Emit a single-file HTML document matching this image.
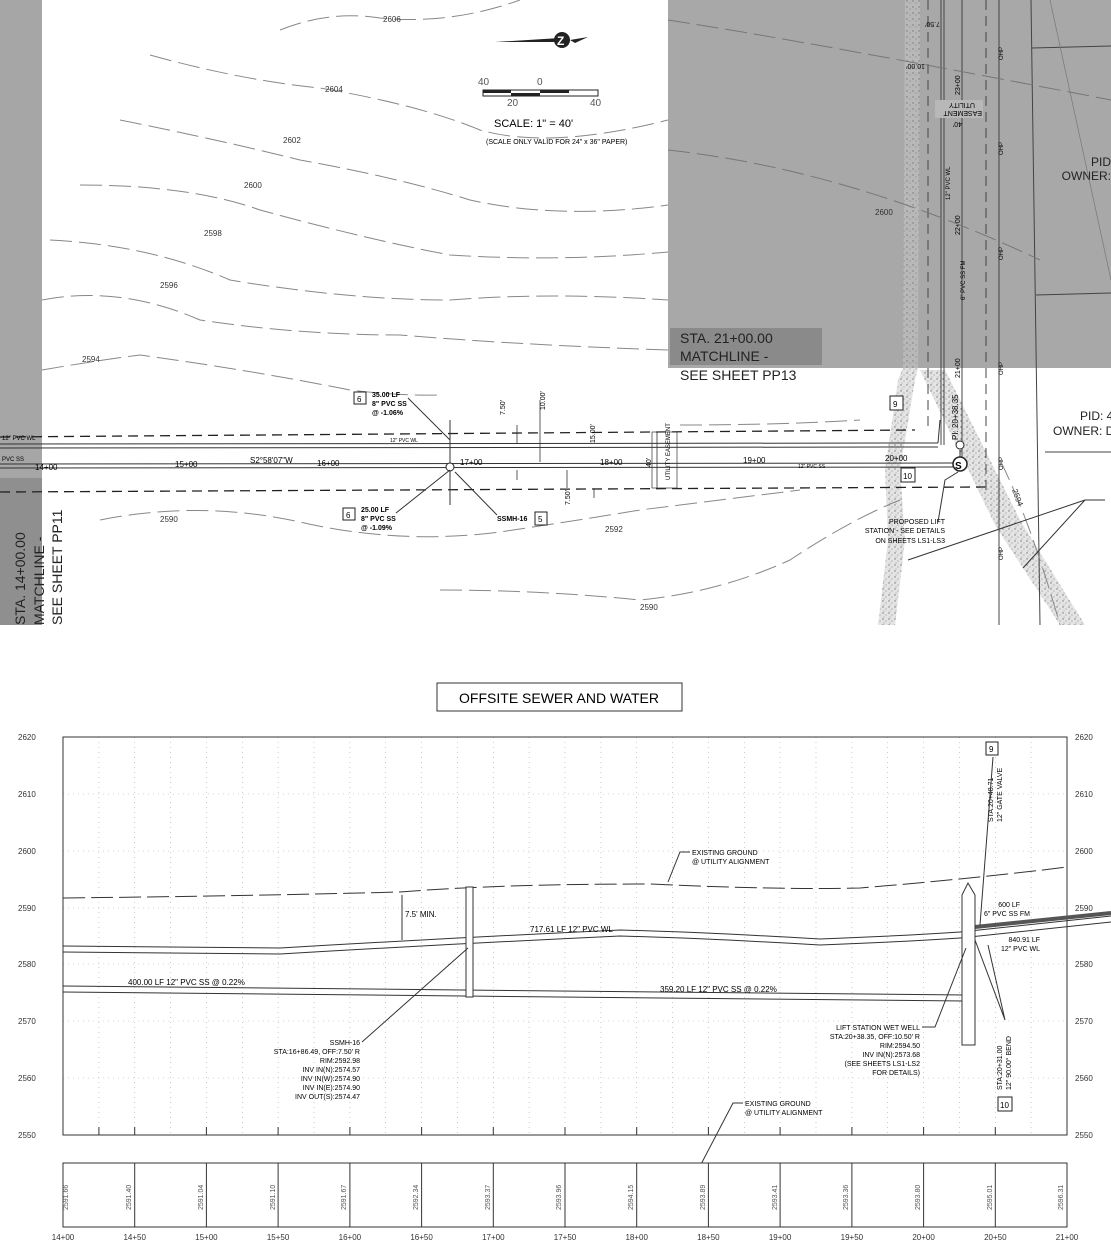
<!DOCTYPE html>
<html><head><meta charset="utf-8"><style>
html,body{margin:0;padding:0;background:#fff;}
svg{display:block;font-family:"Liberation Sans",sans-serif;}
</style></head><body>
<svg width="1111" height="1250" viewBox="0 0 1111 1250" xmlns="http://www.w3.org/2000/svg">
<defs>
<pattern id="spk" width="6" height="6" patternUnits="userSpaceOnUse"><rect width="6" height="6" fill="#e4e4e4"/><circle cx="1" cy="1" r="0.7" fill="#777"/><circle cx="4" cy="3" r="0.6" fill="#999"/><circle cx="2" cy="5" r="0.5" fill="#888"/></pattern>
<pattern id="spk2" width="6" height="6" patternUnits="userSpaceOnUse"><rect width="6" height="6" fill="#b8b8b8"/><circle cx="1" cy="1" r="0.7" fill="#777"/><circle cx="4" cy="3" r="0.6" fill="#888"/></pattern>
</defs>
<rect x="0" y="0" width="42" height="478" fill="#a6a6a6"/>
<rect x="0" y="478" width="42" height="147" fill="#8f8f8f"/>
<text transform="translate(25,625) rotate(-90)" font-size="14" fill="#222">STA. 14+00.00</text>
<text transform="translate(44,625) rotate(-90)" font-size="14" fill="#222">MATCHLINE -</text>
<text transform="translate(62,625) rotate(-90)" font-size="14" fill="#222">SEE SHEET PP11</text>
<rect x="668" y="0" width="443" height="368" fill="#a8a8a8"/>
<path d="M905 0 L920 0 L918 368 L903 368 Z" fill="url(#spk2)"/>
<rect x="670" y="328" width="152" height="37" fill="#8a8a8a"/>
<text x="680" y="343" font-size="14" fill="#222">STA. 21+00.00</text>
<text x="680" y="361" font-size="14" fill="#222">MATCHLINE -</text>
<text x="680" y="380" font-size="14" fill="#222">SEE SHEET PP13</text>
<text x="1111" y="166" font-size="12" text-anchor="end" fill="#222">PID</text>
<text x="1111" y="180" font-size="12" text-anchor="end" fill="#222">OWNER:</text>
<text x="1080" y="420" font-size="12" fill="#222">PID: 4</text>
<text x="1053" y="435" font-size="12" fill="#222">OWNER: D</text>
<path d="M903 368 L918 368 L915 380 L900 470 L905 540 L895 625 L878 625 L888 540 L885 470 L898 380 Z" fill="url(#spk)"/>
<path d="M920 370 L945 370 L1020 520 L1085 625 L1060 625 L995 525 Z" fill="url(#spk)"/>
<g stroke="#444" stroke-width="1" fill="none">
<line x1="941" y1="0" x2="941" y2="445"/><line x1="944" y1="0" x2="944" y2="445"/>
<line x1="962" y1="0" x2="962" y2="460"/>
<line x1="999" y1="0" x2="999" y2="625"/><line x1="1031" y1="0" x2="1040" y2="625"/>
<line x1="1032" y1="48" x2="1111" y2="46"/><line x1="1036" y1="295" x2="1111" y2="293"/>
<line x1="1045" y1="452" x2="1111" y2="452"/>
<line x1="986" y1="0" x2="986" y2="490" stroke-dasharray="10,6"/>
<line x1="928" y1="0" x2="928" y2="430" stroke-dasharray="10,6"/>
<line x1="1050" y1="0" x2="1111" y2="280" stroke="#777" stroke-width="0.7"/>
</g>
<text transform="translate(950,200) rotate(-90)" font-size="6">12" PVC WL</text>
<text transform="translate(965,300) rotate(-90)" font-size="6">6" PVC SS FM</text>
<text transform="translate(960,235) rotate(-90)" font-size="7">22+00</text>
<text transform="translate(960,378) rotate(-90)" font-size="7">21+00</text>
<text transform="translate(960,95) rotate(-90)" font-size="7">23+00</text>
<text transform="translate(958,440) rotate(-90)" font-size="8">PI: 20+38.35</text>
<rect x="935" y="100" width="48" height="18" fill="#b8b8b8"/>
<text transform="translate(975,103) rotate(180)" font-size="7">UTILITY</text>
<text transform="translate(982,111) rotate(180)" font-size="7">EASEMENT</text>
<text transform="translate(962,122) rotate(180)" font-size="7">40'</text>
<text transform="translate(925,64) rotate(180)" font-size="7">10.00'</text>
<text transform="translate(940,22) rotate(180)" font-size="7">7.50'</text>
<text transform="translate(1003,260) rotate(-90)" font-size="6">OHP</text>
<text transform="translate(1003,60) rotate(-90)" font-size="6">OHP</text>
<text transform="translate(1003,155) rotate(-90)" font-size="6">OHP</text>
<text transform="translate(1003,375) rotate(-90)" font-size="6">OHP</text>
<text transform="translate(1003,470) rotate(-90)" font-size="6">OHP</text>
<text transform="translate(1003,560) rotate(-90)" font-size="6">OHP</text>
<text x="875" y="215" font-size="8" fill="#333">2600</text>
<g stroke="#888" stroke-width="1" fill="none" stroke-dasharray="22,7">
<path d="M280 30 Q330 10 380 18 Q450 25 520 0"/>
<path d="M150 55 Q240 80 320 88 Q420 105 480 130 Q550 150 668 120"/>
<path d="M120 120 Q220 140 300 160 Q400 178 470 200 Q560 220 668 205"/>
<path d="M80 185 Q190 185 260 210 Q370 240 450 255 Q560 262 668 252"/>
<path d="M50 240 Q150 245 230 280 Q350 300 450 300 Q550 292 668 300"/>
<path d="M42 300 Q120 285 200 320 Q300 335 400 335 Q520 345 668 350"/>
<path d="M42 370 Q100 360 140 355 Q250 370 350 390 Q400 396 440 395"/>
<path d="M100 520 Q200 500 300 522 Q400 545 500 532 Q580 520 640 510 Q720 500 800 490"/>
<path d="M440 590 Q540 590 640 600 Q720 592 790 560 Q850 520 900 500"/>
<path d="M680 425 Q780 425 860 420"/>
<path d="M1000 460 Q1030 520 1060 625"/>
<path d="M668 20 Q800 40 1111 100" stroke="#777"/>
<path d="M668 150 Q850 170 1040 260" stroke="#777"/>
</g>
<text x="383" y="22" font-size="8" fill="#333">2606</text>
<text x="325" y="92" font-size="8" fill="#333">2604</text>
<text x="283" y="143" font-size="8" fill="#333">2602</text>
<text x="244" y="188" font-size="8" fill="#333">2600</text>
<text x="204" y="236" font-size="8" fill="#333">2598</text>
<text x="160" y="288" font-size="8" fill="#333">2596</text>
<text x="82" y="362" font-size="8" fill="#333">2594</text>
<text x="160" y="522" font-size="8" fill="#333">2590</text>
<text x="605" y="532" font-size="8" fill="#333">2592</text>
<text x="640" y="610" font-size="8" fill="#333">2590</text>
<text transform="translate(1012,490) rotate(70)" font-size="8" fill="#333">2594</text>
<path d="M495 42 L560 38 L555 42 Z" fill="#222"/>
<circle cx="562" cy="40" r="8" fill="#222"/><text x="557" y="45" font-size="12" font-weight="bold" fill="#fff">Z</text>
<path d="M570 40 L588 37 L575 43 Z" fill="#222"/>
<text x="478" y="85" font-size="10" fill="#555">40</text><text x="537" y="85" font-size="10" fill="#555">0</text>
<rect x="483" y="90" width="115" height="6" fill="#fff" stroke="#222"/>
<rect x="483" y="90" width="28" height="3" fill="#222"/><rect x="540" y="90" width="29" height="3" fill="#222"/>
<rect x="511" y="93" width="29" height="3" fill="#222"/>
<text x="507" y="106" font-size="10" fill="#555">20</text><text x="590" y="106" font-size="10" fill="#555">40</text>
<text x="494" y="127" font-size="11">SCALE: 1" = 40'</text>
<text x="486" y="144" font-size="7">(SCALE ONLY VALID FOR 24" x 36" PAPER)</text>
<g stroke="#222" stroke-width="1.3" fill="none" stroke-dasharray="10,6">
<line x1="0" y1="437" x2="915" y2="430"/>
<line x1="0" y1="492" x2="985" y2="487"/>
</g>
<g stroke="#333" stroke-width="1" fill="none">
<line x1="0" y1="444" x2="938" y2="443"/><line x1="0" y1="448" x2="938" y2="447"/>
<line x1="0" y1="464" x2="955" y2="463"/><line x1="0" y1="468" x2="955" y2="467"/>
<line x1="450" y1="420" x2="450" y2="505"/>
<line x1="938" y1="443" x2="940" y2="420"/>
<line x1="960" y1="450" x2="960" y2="458"/>
</g>
<circle cx="450" cy="467" r="4" fill="#fff" stroke="#222"/>
<circle cx="960" cy="445" r="4" fill="#fff" stroke="#222"/>
<circle cx="960" cy="464" r="7" fill="#fff" stroke="#222" stroke-width="1.5"/>
<text x="955" y="469" font-size="10" font-weight="bold">S</text>
<text x="2" y="440" font-size="6">12" PVC WL</text>
<text x="2" y="461" font-size="6">PVC SS</text>
<text x="35" y="470" font-size="8">14+00</text>
<text x="175" y="467" font-size="8">15+00</text>
<text x="250" y="463" font-size="8">S2°58'07"W</text>
<text x="317" y="466" font-size="8">16+00</text>
<text x="460" y="465" font-size="8">17+00</text>
<text x="600" y="465" font-size="8">18+00</text>
<text x="743" y="463" font-size="8">19+00</text>
<text x="885" y="461" font-size="8">20+00</text>
<text x="390" y="442" font-size="5">12" PVC WL</text>
<text x="798" y="468" font-size="5">12" PVC SS</text>
<g stroke="#333" stroke-width="0.8"><line x1="517" y1="425" x2="517" y2="443"/><line x1="540" y1="400" x2="540" y2="462"/><line x1="517" y1="470" x2="517" y2="480"/><line x1="567" y1="470" x2="567" y2="488"/><line x1="594" y1="488" x2="594" y2="498"/><line x1="657" y1="432" x2="657" y2="488"/></g>
<rect x="652" y="432" width="25" height="56" fill="none" stroke="#333" stroke-width="0.7"/>
<text transform="translate(505,415) rotate(-90)" font-size="7">7.50'</text>
<text transform="translate(545,410) rotate(-90)" font-size="7">10.00'</text>
<text transform="translate(595,443) rotate(-90)" font-size="7">15.00'</text>
<text transform="translate(651,467) rotate(-90)" font-size="7">40'</text>
<text transform="translate(670,480) rotate(-90)" font-size="6">UTILITY EASEMENT</text>
<text transform="translate(570,505) rotate(-90)" font-size="7">7.50'</text>
<rect x="354" y="392" width="12" height="12" fill="#fff" stroke="#222"/><text x="357" y="402" font-size="8">6</text>
<text x="372" y="397" font-size="7" font-weight="bold">35.00 LF</text>
<text x="372" y="406" font-size="7" font-weight="bold">8" PVC SS</text>
<text x="372" y="415" font-size="7" font-weight="bold">@ -1.06%</text>
<line x1="408" y1="398" x2="450" y2="440" stroke="#333"/>
<rect x="343" y="508" width="12" height="12" fill="#fff" stroke="#222"/><text x="346" y="518" font-size="8">6</text>
<text x="361" y="512" font-size="7" font-weight="bold">25.00 LF</text>
<text x="361" y="521" font-size="7" font-weight="bold">8" PVC SS</text>
<text x="361" y="530" font-size="7" font-weight="bold">@ -1.09%</text>
<line x1="396" y1="513" x2="450" y2="470" stroke="#333"/>
<text x="497" y="521" font-size="7" font-weight="bold">SSMH-16</text>
<rect x="535" y="512" width="12" height="13" fill="#fff" stroke="#222"/><text x="538" y="522" font-size="8">5</text>
<line x1="497" y1="515" x2="455" y2="472" stroke="#333"/>
<rect x="890" y="396" width="13" height="14" fill="#fff" stroke="#222"/><text x="893" y="407" font-size="8">9</text>
<rect x="901" y="468" width="14" height="14" fill="#fff" stroke="#222"/><text x="903" y="479" font-size="8">10</text>
<text x="945" y="524" font-size="7" text-anchor="end">PROPOSED LIFT</text>
<text x="945" y="533" font-size="7" text-anchor="end">STATION - SEE DETAILS</text>
<text x="945" y="543" font-size="7" text-anchor="end">ON SHEETS LS1-LS3</text>
<path d="M938 522 L945 480 L958 472" stroke="#333" fill="none"/>
<path d="M1085 500 L1105 500 M1085 500 L908 560 M1085 500 L1023 568" stroke="#333" fill="none"/>
<rect x="437" y="683" width="245" height="28" fill="#fff" stroke="#333"/>
<text x="559" y="703" font-size="14" text-anchor="middle">OFFSITE SEWER AND WATER</text>
<g stroke="#aaa" stroke-width="0.6" stroke-dasharray="1,4">
<line x1="98.9" y1="737" x2="98.9" y2="1135"/><line x1="134.7" y1="737" x2="134.7" y2="1135"/><line x1="170.6" y1="737" x2="170.6" y2="1135"/><line x1="206.4" y1="737" x2="206.4" y2="1135"/><line x1="242.3" y1="737" x2="242.3" y2="1135"/><line x1="278.1" y1="737" x2="278.1" y2="1135"/><line x1="314" y1="737" x2="314" y2="1135"/><line x1="349.9" y1="737" x2="349.9" y2="1135"/><line x1="385.7" y1="737" x2="385.7" y2="1135"/><line x1="421.6" y1="737" x2="421.6" y2="1135"/><line x1="457.4" y1="737" x2="457.4" y2="1135"/><line x1="493.3" y1="737" x2="493.3" y2="1135"/><line x1="529.1" y1="737" x2="529.1" y2="1135"/><line x1="565" y1="737" x2="565" y2="1135"/><line x1="600.9" y1="737" x2="600.9" y2="1135"/><line x1="636.7" y1="737" x2="636.7" y2="1135"/><line x1="672.6" y1="737" x2="672.6" y2="1135"/><line x1="708.4" y1="737" x2="708.4" y2="1135"/><line x1="744.3" y1="737" x2="744.3" y2="1135"/><line x1="780.1" y1="737" x2="780.1" y2="1135"/><line x1="816" y1="737" x2="816" y2="1135"/><line x1="851.9" y1="737" x2="851.9" y2="1135"/><line x1="887.7" y1="737" x2="887.7" y2="1135"/><line x1="923.6" y1="737" x2="923.6" y2="1135"/><line x1="959.4" y1="737" x2="959.4" y2="1135"/><line x1="995.3" y1="737" x2="995.3" y2="1135"/><line x1="1031.1" y1="737" x2="1031.1" y2="1135"/>
<line x1="63" y1="794" x2="1067" y2="794"/><line x1="63" y1="851" x2="1067" y2="851"/><line x1="63" y1="908" x2="1067" y2="908"/><line x1="63" y1="964" x2="1067" y2="964"/><line x1="63" y1="1021" x2="1067" y2="1021"/><line x1="63" y1="1078" x2="1067" y2="1078"/>
</g>
<rect x="63" y="737" width="1004" height="398" fill="none" stroke="#333"/>
<g font-size="8" fill="#333">
<text x="18" y="740">2620</text><text x="18" y="797">2610</text><text x="18" y="854">2600</text><text x="18" y="911">2590</text><text x="18" y="967">2580</text><text x="18" y="1024">2570</text><text x="18" y="1081">2560</text><text x="18" y="1138">2550</text>
<text x="1075" y="740">2620</text><text x="1075" y="797">2610</text><text x="1075" y="854">2600</text><text x="1075" y="911">2590</text><text x="1075" y="967">2580</text><text x="1075" y="1024">2570</text><text x="1075" y="1081">2560</text><text x="1075" y="1138">2550</text>
</g>
<g stroke="#333"><line x1="98.9" y1="1127" x2="98.9" y2="1135"/><line x1="134.7" y1="1127" x2="134.7" y2="1135"/><line x1="206.4" y1="1127" x2="206.4" y2="1135"/><line x1="278.1" y1="1127" x2="278.1" y2="1135"/><line x1="349.9" y1="1127" x2="349.9" y2="1135"/><line x1="421.6" y1="1127" x2="421.6" y2="1135"/><line x1="493.3" y1="1127" x2="493.3" y2="1135"/><line x1="565" y1="1127" x2="565" y2="1135"/><line x1="636.7" y1="1127" x2="636.7" y2="1135"/><line x1="708.4" y1="1127" x2="708.4" y2="1135"/><line x1="780.1" y1="1127" x2="780.1" y2="1135"/><line x1="851.9" y1="1127" x2="851.9" y2="1135"/><line x1="923.6" y1="1127" x2="923.6" y2="1135"/><line x1="995.3" y1="1127" x2="995.3" y2="1135"/></g>
<path d="M63 898 Q250 896 400 892 Q500 884 650 884 Q780 890 860 888 Q980 878 1067 867" stroke="#333" stroke-width="1" fill="none" stroke-dasharray="22,6"/>
<path d="M63 946 L280 948 Q450 938 620 930 Q700 932 820 939 Q900 936 960 932 L1111 916" stroke="#333" fill="none"/>
<path d="M63 952 L280 954 Q450 944 620 936 Q700 938 820 945 Q900 942 960 938 L1111 922" stroke="#333" fill="none"/>
<path d="M975 927 L1111 913" stroke="#555" stroke-width="4" fill="none"/>
<path d="M63 986 L965 995" stroke="#333" fill="none"/>
<path d="M63 992 L965 1001" stroke="#333" fill="none"/>
<rect x="466" y="887" width="7" height="110" fill="#fff" stroke="#333"/>
<path d="M962 895 L968 883 L975 895 L975 1045 L962 1045 Z" fill="#fff" stroke="#333"/>
<line x1="402" y1="895" x2="402" y2="940" stroke="#333"/>
<text x="405" y="917" font-size="8">7.5' MIN.</text>
<text x="530" y="932" font-size="8">717.61 LF 12" PVC WL</text>
<text x="128" y="985" font-size="8">400.00 LF 12" PVC SS @ 0.22%</text>
<text x="660" y="992" font-size="8">359.20 LF 12" PVC SS @ 0.22%</text>
<text x="692" y="855" font-size="7">EXISTING GROUND</text>
<text x="692" y="864" font-size="7">@ UTILITY ALIGNMENT</text>
<path d="M690 852 L680 852 L668 882" stroke="#333" fill="none"/>
<text x="745" y="1106" font-size="7">EXISTING GROUND</text>
<text x="745" y="1115" font-size="7">@ UTILITY ALIGNMENT</text>
<path d="M743 1103 L733 1103 L698 1170" stroke="#333" fill="none"/>
<g font-size="7" text-anchor="end">
<text x="360" y="1045">SSMH-16</text><text x="360" y="1054">STA:16+86.49, OFF:7.50' R</text><text x="360" y="1063">RIM:2592.98</text><text x="360" y="1072">INV IN(N):2574.57</text><text x="360" y="1081">INV IN(W):2574.90</text><text x="360" y="1090">INV IN(E):2574.90</text><text x="360" y="1099">INV OUT(S):2574.47</text>
<text x="920" y="1030">LIFT STATION WET WELL</text><text x="920" y="1039">STA:20+38.35, OFF:10.50' R</text><text x="920" y="1048">RIM:2594.50</text><text x="920" y="1057">INV IN(N):2573.68</text><text x="920" y="1066">(SEE SHEETS LS1-LS2</text><text x="920" y="1075">FOR DETAILS)</text>
</g>
<path d="M362 1042 L468 948" stroke="#333" fill="none"/>
<path d="M922 1027 L935 1027 L966 948" stroke="#333" fill="none"/>
<text x="1020" y="907" font-size="7" text-anchor="end">600 LF</text>
<text x="1030" y="916" font-size="7" text-anchor="end">6" PVC SS FM</text>
<text x="1040" y="942" font-size="7" text-anchor="end">840.91 LF</text>
<text x="1040" y="951" font-size="7" text-anchor="end">12" PVC WL</text>
<rect x="986" y="742" width="12" height="13" fill="#fff" stroke="#222"/><text x="989" y="752" font-size="8">9</text>
<text transform="translate(993,822) rotate(-90)" font-size="7">STA:20+48.71</text>
<text transform="translate(1002,822) rotate(-90)" font-size="7">12" GATE VALVE</text>
<line x1="993" y1="757" x2="980" y2="925" stroke="#333"/>
<text transform="translate(1002,1090) rotate(-90)" font-size="7">STA:20+31.00</text>
<text transform="translate(1011,1090) rotate(-90)" font-size="7">12" 90.00° BEND</text>
<rect x="998" y="1097" width="14" height="14" fill="#fff" stroke="#222"/><text x="1000" y="1108" font-size="8">10</text>
<path d="M1005 1020 L975 940 M1005 1020 L988 945" stroke="#333" fill="none"/>
<rect x="63" y="1163" width="1004" height="64" fill="#fff" stroke="#333"/>
<g stroke="#333"><line x1="134.7" y1="1163" x2="134.7" y2="1227"/><line x1="206.4" y1="1163" x2="206.4" y2="1227"/><line x1="278.1" y1="1163" x2="278.1" y2="1227"/><line x1="349.9" y1="1163" x2="349.9" y2="1227"/><line x1="421.6" y1="1163" x2="421.6" y2="1227"/><line x1="493.3" y1="1163" x2="493.3" y2="1227"/><line x1="565" y1="1163" x2="565" y2="1227"/><line x1="636.7" y1="1163" x2="636.7" y2="1227"/><line x1="708.4" y1="1163" x2="708.4" y2="1227"/><line x1="780.1" y1="1163" x2="780.1" y2="1227"/><line x1="851.9" y1="1163" x2="851.9" y2="1227"/><line x1="923.6" y1="1163" x2="923.6" y2="1227"/><line x1="995.3" y1="1163" x2="995.3" y2="1227"/></g>
<g font-size="7" fill="#555">
<text transform="translate(68,1210) rotate(-90)">2591.66</text><text transform="translate(131,1210) rotate(-90)">2591.40</text><text transform="translate(203,1210) rotate(-90)">2591.04</text><text transform="translate(275,1210) rotate(-90)">2591.10</text><text transform="translate(346,1210) rotate(-90)">2591.67</text><text transform="translate(418,1210) rotate(-90)">2592.34</text><text transform="translate(490,1210) rotate(-90)">2593.37</text><text transform="translate(561,1210) rotate(-90)">2593.96</text><text transform="translate(633,1210) rotate(-90)">2594.15</text><text transform="translate(705,1210) rotate(-90)">2593.89</text><text transform="translate(777,1210) rotate(-90)">2593.41</text><text transform="translate(848,1210) rotate(-90)">2593.36</text><text transform="translate(920,1210) rotate(-90)">2593.80</text><text transform="translate(992,1210) rotate(-90)">2595.01</text><text transform="translate(1063,1210) rotate(-90)">2596.31</text>
</g>
<g font-size="8" fill="#333" text-anchor="middle">
<text x="63" y="1240">14+00</text><text x="134.7" y="1240">14+50</text><text x="206.4" y="1240">15+00</text><text x="278.1" y="1240">15+50</text><text x="349.9" y="1240">16+00</text><text x="421.6" y="1240">16+50</text><text x="493.3" y="1240">17+00</text><text x="565" y="1240">17+50</text><text x="636.7" y="1240">18+00</text><text x="708.4" y="1240">18+50</text><text x="780.1" y="1240">19+00</text><text x="851.9" y="1240">19+50</text><text x="923.6" y="1240">20+00</text><text x="995.3" y="1240">20+50</text><text x="1067" y="1240">21+00</text>
</g>
</svg>
</body></html>
